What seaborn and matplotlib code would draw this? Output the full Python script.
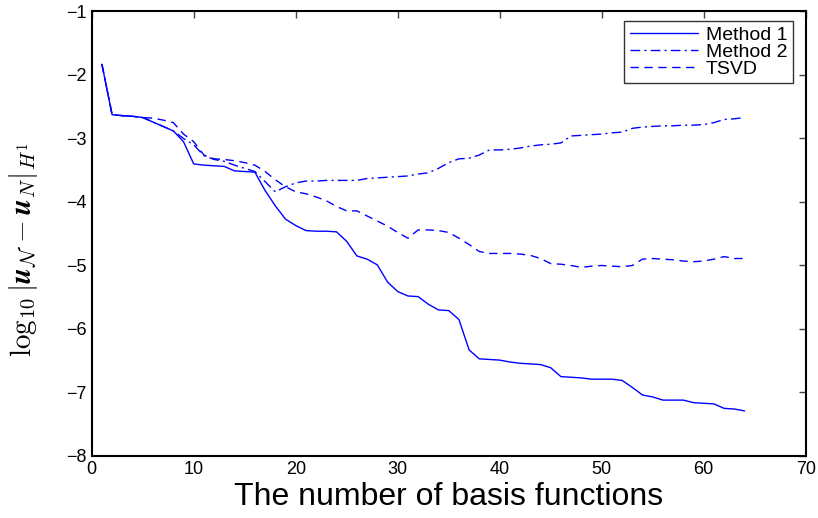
import numpy as np
import pandas as pd
import matplotlib
matplotlib.use("Agg")
import matplotlib.pyplot as plt
import seaborn as sns

n_basis = list(range(1, 65))

method1 = [-1.83, -2.625, -2.64, -2.65, -2.67, -2.74, -2.81, -2.88, -3.05, -3.40,
           -3.42, -3.43, -3.44, -3.51, -3.52, -3.53, -3.82, -4.06, -4.27, -4.37,
           -4.45, -4.46, -4.46, -4.47, -4.62, -4.85, -4.90, -4.99, -5.26, -5.41,
           -5.48, -5.49, -5.61, -5.70, -5.71, -5.85, -6.33, -6.47, -6.48, -6.49,
           -6.52, -6.54, -6.55, -6.56, -6.61, -6.75, -6.76, -6.77, -6.79, -6.79,
           -6.79, -6.81, -6.92, -7.04, -7.07, -7.12, -7.12, -7.12, -7.16, -7.17,
           -7.18, -7.25, -7.26, -7.29]

method2 = [-1.83, -2.625, -2.64, -2.65, -2.67, -2.74, -2.81, -2.88, -3.00, -3.10,
           -3.27, -3.33, -3.36, -3.42, -3.47, -3.52, -3.68, -3.84, -3.76, -3.70,
           -3.67, -3.67, -3.66, -3.66, -3.66, -3.66, -3.63, -3.62, -3.61, -3.60,
           -3.59, -3.56, -3.54, -3.47, -3.38, -3.32, -3.31, -3.26, -3.18, -3.18,
           -3.17, -3.15, -3.12, -3.10, -3.09, -3.07, -2.96, -2.95, -2.94, -2.93,
           -2.91, -2.90, -2.84, -2.82, -2.81, -2.80, -2.80, -2.79, -2.79, -2.78,
           -2.75, -2.70, -2.69, -2.67]

tsvd = [-1.83, -2.625, -2.64, -2.65, -2.67, -2.68, -2.71, -2.75, -2.93, -3.05,
        -3.26, -3.32, -3.33, -3.35, -3.38, -3.42, -3.52, -3.65, -3.76, -3.84,
        -3.87, -3.92, -3.98, -4.07, -4.14, -4.14, -4.22, -4.30, -4.38, -4.48,
        -4.57, -4.44, -4.44, -4.45, -4.48, -4.57, -4.67, -4.78, -4.81, -4.81,
        -4.81, -4.82, -4.84, -4.89, -4.97, -4.98, -5.00, -5.03, -5.01, -5.00,
        -5.01, -5.02, -5.00, -4.90, -4.89, -4.90, -4.91, -4.93, -4.94, -4.93,
        -4.90, -4.86, -4.89, -4.89]

series_names = ["Method 1", "Method 2", "TSVD"]
x_ticks = [0, 10, 20, 30, 40, 50, 60, 70]
y_ticks = [-8, -7, -6, -5, -4, -3, -2, -1]

df = pd.DataFrame({
    "n": n_basis * 3,
    "err": method1 + method2 + tsvd,
    "method": [series_names[0]] * 64 + [series_names[1]] * 64 + [series_names[2]] * 64,
})

sns.set_style("white")
plt.rcParams["font.family"] = ["Liberation Sans", "DejaVu Sans"]
plt.rcParams["mathtext.fontset"] = "cm"
plt.rcParams["text.color"] = "black"
plt.rcParams["axes.labelcolor"] = "black"

fig = plt.figure(figsize=(8.18, 5.18), dpi=100)
ax = fig.add_axes([0.1121, 0.1197, 0.985 - 0.1121, 0.9778 - 0.1197])

styles = {"Method 1": "", "Method 2": (7, 3, 1.5, 3), "TSVD": (6, 4)}
sns.lineplot(data=df, x="n", y="err", hue="method", style="method",
             palette=["#0000ff"] * 3, dashes=styles, linewidth=1.0,
             ax=ax, legend=True)

ax.set_xlim(0, 70)
ax.set_ylim(-8, -1)
ax.set_xticks(x_ticks)
ax.set_yticks(y_ticks)
ax.set_xticklabels([str(t) for t in x_ticks])
ax.set_yticklabels([("\u2212" + str(-t)) if t < 0 else str(t) for t in y_ticks])
ax.tick_params(direction="in", length=5, width=1, labelsize=13,
               top=True, right=True, colors="#444444", labelcolor="black")
for s in ax.spines.values():
    s.set_visible(True)
    s.set_color("black")
    s.set_linewidth(1.5)

ax.set_xlabel("The number of basis functions", fontsize=23, labelpad=3)
ax.set_ylabel(r"$\log_{10}|\mathbfit{u}_{\mathcal{N}} - \mathbfit{u}_N|_{H^1}$",
              fontsize=21)
ax.yaxis.set_label_coords(-0.073, 0.465)

leg = ax.legend(loc="upper right", fontsize=14, frameon=True, fancybox=False,
                edgecolor="black", handlelength=3.5, borderaxespad=0.0,
                bbox_to_anchor=(0.982, 0.979),
                labelspacing=-0.05, borderpad=0.3, handletextpad=0.4)
leg.get_frame().set_linewidth(1.0)
for t in leg.get_texts():
    t.set_color("black")

fig.savefig("out.png", dpi=100)
